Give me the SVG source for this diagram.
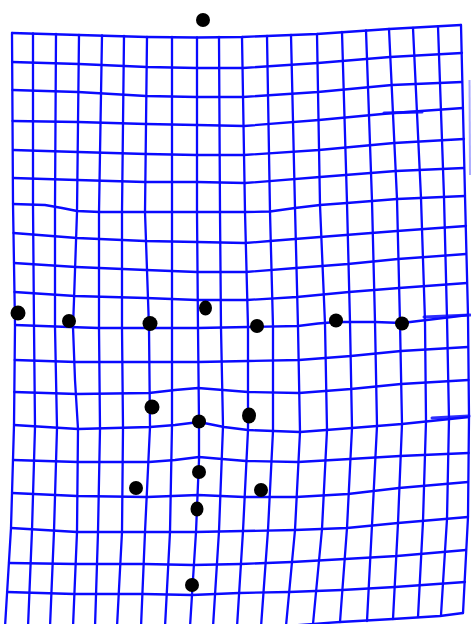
<svg xmlns="http://www.w3.org/2000/svg" width="471" height="624" viewBox="0 0 471 624">
<style>
.g{fill:none;stroke:#0a0aff;stroke-width:2.3;stroke-linejoin:round;stroke-linecap:round}
.a{fill:none;stroke:#0a0aff;stroke-width:3;stroke-linecap:round;opacity:0.85}
.f{fill:none;stroke:#0a0aff;stroke-width:2;opacity:0.35}
.d{fill:#000}
</style>
<rect width="471" height="624" fill="#fff"/>
<g id="rows" class="g">
<path d="M12,33 L79,35 L147,37 L197,37.5 L242,37 L317,34 L389,29 L461,25"/>
<path d="M12,62 L79,64 L147,67 L197,68 L243,68 L318,63 L390,57 L462,53"/>
<path d="M12.5,90 L78,92 L146,96 L197,97 L243,97 L318,92 L392,85 L462,82"/>
<path d="M12.5,121 L78,122 L146,124 L197,125 L244,126 L319,120 L393,113 L463,108"/>
<path d="M13,150 L78,152 L146,154 L197,155 L244,155 L319,150 L394,143 L464,139"/>
<path d="M13,178 L77,180 L145,182 L197,182 L245,183 L320,177 L396,171 L464,168"/>
<path d="M13,204 L45,205 L62,208 L77,211 L100,212 L145,212 L197,212 L245,212 L270,211.5 L295,208 L320,205 L347,203 L397,199 L465,196"/>
<path d="M13.5,233 L77,238 L145,241 L197,242 L245,243 L270,241 L320,237 L397,231 L466,226"/>
<path d="M14,263 L76,267 L146,270 L197,272 L246,272 L296,268 L348,264 L398,259 L466,254"/>
<path d="M14.5,292 L75,296 L146,298 L197,300 L247,300 L297,297 L349,292 L399,288 L467,283"/>
<path d="M15,325 L69,327 L99,328 L149,328 L198,328 L248,327 L298,326 L318,323.5 L336,322 L375,322 L402,323 L468,315"/>
<path d="M14.7,360 L76,362 L148,362 L198,362 L248,361 L299,360 L351,356 L401,351 L468,347"/>
<path d="M14.3,392 L77,394 L149,393 L175,390 L198,388 L223,390 L248,392 L299,393 L351,389 L401,384 L468.5,380"/>
<path d="M14,425 L78,429 L150,427 L175,425 L199,422 L224,427 L248,430 L300,432 L352,428 L402,424 L469,417"/>
<path d="M13,460 L78,462 L149,462 L175,460 L199,457 L222,459 L246,461 L298,462 L350,459 L400,456 L468.7,453"/>
<path d="M12,493 L77,496 L147,497 L198,495 L244,497 L296,497 L348,494 L399,488 L468,482"/>
<path d="M11,528 L77,532 L145,532 L195,532 L243,531 L295,530 L347,528 L398,523 L468,517"/>
<path d="M9,563 L76,564 L144,564 L193,565 L241,564 L292,562 L345,559 L397,556 L466,550"/>
<path d="M7,592 L74,594 L143,594 L192,595 L239,593 L289,592 L342,590 L395,587 L465,582"/>
<path d="M5,627 L190,627 L286,626 L340,622 L393,619 L440,616 L463,613"/>
</g>
<g id="cols" class="g">
<path d="M12,33 L13,204 L15,325 L14,425 L11,528 L5,627"/>
<path d="M33,33.5 L33,205 L34,326 L35,427 L32,530 L28,627"/>
<path d="M56,34 L55,206 L55,327 L57,428 L54,531 L50,627"/>
<path d="M79,35 L77,212 L74,300 L73,327 L75,380 L78,429 L77,532 L73,627"/>
<path d="M102,35.5 L99,212 L99,328 L100,429 L98,532 L95,627"/>
<path d="M124,36 L122,212 L122,328 L123,428 L122,532 L117,627"/>
<path d="M147,37 L145,212 L149,328 L150,427 L145,532 L141,627"/>
<path d="M172,37 L172,212 L172,328 L172,425 L170,532 L165,627"/>
<path d="M197,37.5 L197,212 L198,328 L199,422 L199,460 L196,532 L192,595 L190,627"/>
<path d="M219,37 L220,212 L221,328 L223,426 L219,531 L213,627"/>
<path d="M242,37 L245,212 L248,327 L248,430 L243,531 L237,627"/>
<path d="M267,36 L270,212 L273,327 L273,431 L268,530 L261,627"/>
<path d="M291,35 L295,208 L298,327 L300,432 L295,530 L286,626"/>
<path d="M317,34 L320,205 L325,324 L327,430 L322,529 L313,624"/>
<path d="M342,32 L347,203 L350,322 L352,428 L347,528 L340,622"/>
<path d="M366,30.5 L372,201 L375,322 L377,426 L372,525 L367,621"/>
<path d="M389,29 L397,199 L400,323 L402,424 L398,523 L393,619"/>
<path d="M413,28 L421,198 L425,321 L426,421 L423,521 L418,617"/>
<path d="M438,26.5 L444,197 L447,318 L449,419 L447,519 L441,615"/>
<path d="M461,25 L465,196 L468,315 L469,417 L468,517 L463,613"/>
</g>
<g id="folds">
<path class="a" d="M384,113 L422,112"/>
<path class="a" d="M424,317 L470,315"/>
<path class="a" d="M432,418 L469,416"/>
<path class="f" d="M469.5,80 L470,175"/>
</g>
<g id="landmarks" class="d">
<circle cx="203" cy="20" r="7"/>
<circle cx="18" cy="313" r="7.5"/>
<circle cx="69" cy="321" r="7"/>
<circle cx="150" cy="323.5" r="7.5"/>
<ellipse cx="205.5" cy="308" rx="6.5" ry="7.5"/>
<circle cx="257" cy="326" r="7"/>
<circle cx="336" cy="320.5" r="7"/>
<circle cx="402" cy="323.5" r="7"/>
<circle cx="152" cy="407" r="7.5"/>
<circle cx="199" cy="421.5" r="7"/>
<ellipse cx="249" cy="415.5" rx="7" ry="8"/>
<circle cx="199" cy="472" r="7"/>
<circle cx="136" cy="488" r="7"/>
<circle cx="261" cy="490" r="7"/>
<ellipse cx="197" cy="509" rx="6.5" ry="7.5"/>
<circle cx="192" cy="585" r="7"/>
</g>
</svg>
